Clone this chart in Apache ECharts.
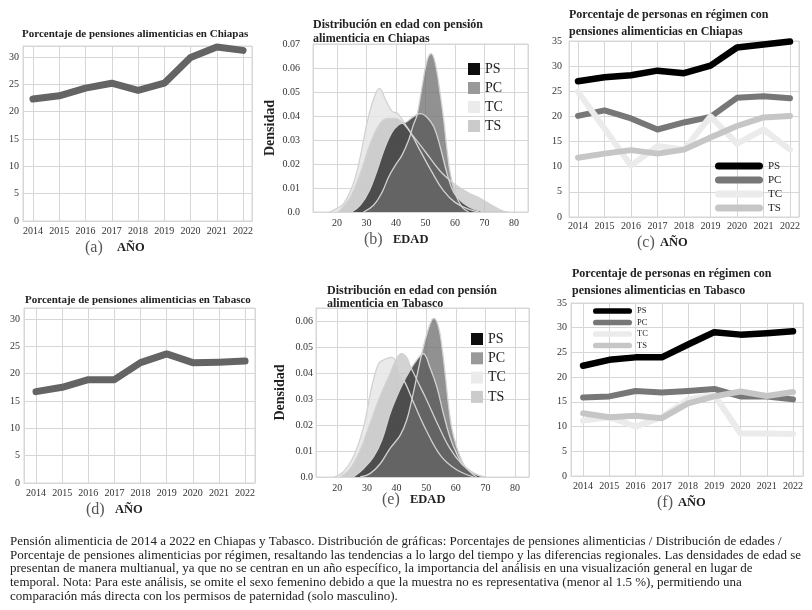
<!DOCTYPE html>
<html>
<head>
<meta charset="utf-8">
<script src="https://cdn.jsdelivr.net/npm/echarts@6/dist/echarts.min.js"></script>
<style>
html,body{margin:0;padding:0;background:#fff;}
#chart{width:812px;height:610px;}
</style>
</head>
<body>
<div id="chart"></div>
<script>
// ---------------- DATA ----------------
const years = [2014, 2015, 2016, 2017, 2018, 2019, 2020, 2021, 2022];
const chiapasPension = [22.3, 22.9, 24.3, 25.2, 23.9, 25.2, 29.9, 31.8, 31.2];
const tabascoPension = [16.7, 17.5, 18.9, 18.9, 22.0, 23.6, 22.0, 22.1, 22.3];

const chiapasPS = [27.0, 27.8, 28.2, 29.1, 28.6, 30.1, 33.7, 34.3, 34.9];
const chiapasPC = [20.1, 21.2, 19.6, 17.4, 18.8, 19.9, 23.7, 24.0, 23.6];
const chiapasTC = [24.9, 17.6, 10.2, 14.1, 13.4, 20.0, 14.6, 17.4, 13.4];
const chiapasTS = [11.8, 12.6, 13.3, 12.6, 13.4, 15.8, 18.1, 19.8, 20.1];

const tabascoPS = [22.3, 23.5, 24.0, 24.0, 26.6, 29.1, 28.6, 28.9, 29.3];
const tabascoPC = [15.9, 16.1, 17.2, 16.9, 17.2, 17.6, 16.1, 16.1, 15.5];
const tabascoTC = [11.2, 11.9, 10.0, 11.9, 15.5, 16.4, 8.6, 8.6, 8.5];
const tabascoTS = [12.7, 11.9, 12.2, 11.7, 14.7, 16.1, 17.1, 16.2, 17.0];

// age density curves [edad, densidad]
const chiapasAgeTC = [[17.5,0],[20,0.0015],[22.3,0.0035],[25.6,0.012],[27.9,0.023],[30,0.036],[32.4,0.047],[34.4,0.0515],[36.4,0.047],[38.6,0.042],[40.6,0.041],[42.6,0.0375],[45,0.033],[48,0.026],[52,0.017],[56,0.009],[60,0.004],[65,0.001],[68,0]];
const chiapasAgeTS = [[20.5,0],[22,0.002],[24.5,0.006],[27.9,0.016],[31.3,0.0285],[34.7,0.037],[37.5,0.039],[39.8,0.039],[42,0.0375],[45,0.033],[50,0.025],[55,0.017],[59.5,0.012],[64,0.0083],[68.6,0.0056],[72.5,0.0028],[76,0.0005],[78,0]];
const chiapasAgePS = [[25,0],[28,0.003],[31,0.009],[33.5,0.017],[36,0.026],[38.5,0.033],[41,0.0365],[43.5,0.0375],[46,0.0398],[48.2,0.041],[50.5,0.0395],[52.8,0.0355],[55,0.027],[57.3,0.016],[59.5,0.0083],[63,0.0035],[66.3,0.0012],[70,0]];
const chiapasAgePC = [[29,0],[32.4,0.0028],[35.3,0.0083],[37.5,0.0146],[39.8,0.0195],[42,0.0236],[44.3,0.030],[45.8,0.036],[47.1,0.0403],[48.8,0.052],[50.5,0.063],[51.9,0.066],[53.3,0.062],[55,0.049],[56.2,0.038],[57.3,0.0257],[58.4,0.016],[60.1,0.0076],[62.4,0.002],[64.6,0]];

const tabascoAgeTC = [[19,0],[22,0.0019],[25.4,0.0077],[28.8,0.019],[31.6,0.0346],[33.9,0.0436],[35.5,0.045],[38.4,0.046],[39.5,0.045],[41,0.04],[43,0.036],[46,0.028],[50,0.018],[55,0.008],[60,0.003],[66,0]];
const tabascoAgeTS = [[21,0],[24.3,0.0032],[27.7,0.0103],[31,0.0205],[34.4,0.031],[37.8,0.0397],[40,0.0455],[41.7,0.0474],[43.4,0.046],[44.5,0.043],[47,0.037],[50,0.030],[54,0.020],[58,0.011],[62,0.005],[66,0.0015],[70,0]];
const tabascoAgePS = [[25.4,0],[28.8,0.0032],[32.2,0.0077],[35,0.0141],[37.8,0.0244],[40,0.0308],[42.3,0.0365],[44.5,0.041],[46.5,0.0445],[49,0.0474],[51.3,0.042],[53.6,0.0346],[55.8,0.0244],[58,0.0154],[60.3,0.009],[62.6,0.0045],[66,0.0015],[69.3,0]];
const tabascoAgePC = [[27.7,0],[31,0.0013],[34.4,0.005],[37.8,0.011],[41.2,0.016],[43.4,0.0218],[45.1,0.0295],[46.8,0.0385],[48.5,0.0474],[50.2,0.055],[51.9,0.0605],[52.7,0.061],[54.1,0.058],[55.2,0.051],[56.4,0.0397],[57.5,0.028],[58.6,0.019],[60.3,0.0115],[62.6,0.005],[64.8,0.002],[67,0]];

const regimes = ['PS', 'PC', 'TC', 'TS'];
const titleA = 'Porcentaje de pensiones alimenticias en Chiapas';
const titleD = 'Porcentaje de pensiones alimenticias en Tabasco';
const titleB = ['Distribución en edad con pensión', 'alimenticia en Chiapas'];
const titleE = ['Distribución en edad con pensión', 'alimenticia en Tabasco'];
const titleC = ['Porcentaje de personas en régimen con', 'pensiones alimenticias en Chiapas'];
const titleF = ['Porcentaje de personas en régimen con', 'pensiones alimenticias en Tabasco'];
const captionLines = [
  'Pensión alimenticia de 2014 a 2022 en Chiapas y Tabasco. Distribución de gráficas: Porcentajes de pensiones alimenticias / Distribución de edades /',
  'Porcentaje de pensiones alimenticias por régimen, resaltando las tendencias a lo largo del tiempo y las diferencias regionales. Las densidades de edad se',
  'presentan de manera multianual, ya que no se centran en un año específico, la importancia del análisis en una visualización general en lugar de',
  'temporal. Nota: Para este análisis, se omite el sexo femenino debido a que la muestra no es representativa (menor al 1.5 %), permitiendo una',
  'comparación más directa con los permisos de paternidad (solo masculino).'
];

// ---------------- STYLE ----------------
const serif = 'Liberation Serif';
const gridColor = '#d7d7d7';
const lineColors = { PS: '#000000', PC: '#777777', TC: '#ebebeb', TS: '#c6c6c6' };
const legendSquare = { PS: '#0d0d0d', PC: '#999999', TC: '#ebebeb', TS: '#cbcbcb' };
const areaColors = { PS: ['#222222', 0.75], PC: ['#6c6c6c', 0.75], TC: ['#e6e6e6', 0.85], TS: ['#c0c0c0', 0.7] };
const pill = 'path://M3.5,0 L44.5,0 A3.5,3.5 0 0 1 44.5,7 L3.5,7 A3.5,3.5 0 0 1 3.5,0 Z';

function isInt(v) { return Math.abs(v - Math.round(v)) < 1e-6; }

function grid(l, t, w, h) {
  return { left: l, top: t, width: w, height: h, show: true, borderColor: gridColor, borderWidth: 1, containLabel: false };
}
function yearAxis(gi, mn, mx, margin) {
  return {
    type: 'value', gridIndex: gi, min: mn, max: mx, splitNumber: 9, minInterval: 1, maxInterval: 1,
    axisLine: { show: true, lineStyle: { color: gridColor } }, axisTick: { show: false },
    axisLabel: { fontFamily: serif, fontSize: 10, color: '#333', margin: margin,
      formatter: v => isInt(v) ? String(Math.round(v)) : '' },
    splitLine: { show: true, lineStyle: { color: gridColor, width: 1 } }
  };
}
function pctAxis(gi, mx, margin) {
  return {
    type: 'value', gridIndex: gi, min: 0, max: mx, interval: 5,
    axisLine: { show: true, lineStyle: { color: gridColor } }, axisTick: { show: false },
    axisLabel: { fontFamily: serif, fontSize: 10, color: '#333', margin: margin,
      formatter: v => (isInt(v / 5) ? String(Math.round(v)) : '') },
    splitLine: { show: true, lineStyle: { color: gridColor, width: 1 } }
  };
}
function ageAxis(gi, mn, mx) {
  return {
    type: 'value', gridIndex: gi, min: mn, max: mx, splitNumber: 7, minInterval: 10, maxInterval: 10,
    axisLine: { show: true, lineStyle: { color: gridColor } }, axisTick: { show: false },
    axisLabel: { fontFamily: serif, fontSize: 10, color: '#333', margin: 6,
      formatter: v => (isInt(v / 10) ? String(Math.round(v)) : '') },
    splitLine: { show: true, lineStyle: { color: gridColor, width: 1 } }
  };
}
function densAxis(gi, mx, margin, nameGap) {
  return {
    type: 'value', gridIndex: gi, min: 0, max: mx, interval: 0.01,
    name: 'Densidad', nameLocation: 'middle', nameGap: nameGap, nameRotate: 90,
    nameTextStyle: { fontFamily: serif, fontSize: 14, fontWeight: 'bold', color: '#222' },
    axisLine: { show: true, lineStyle: { color: gridColor } }, axisTick: { show: false },
    axisLabel: { fontFamily: serif, fontSize: 10, color: '#333', margin: margin,
      formatter: v => v === 0 ? '0.0' : (isInt(v * 100) ? v.toFixed(2) : '') },
    splitLine: { show: true, lineStyle: { color: gridColor, width: 1 } }
  };
}
function pair(vals) { return years.map((y, i) => [y, vals[i]]); }
function totalLine(gi, vals) {
  return { type: 'line', name: 'total' + gi, xAxisIndex: gi, yAxisIndex: gi, data: pair(vals),
    symbol: 'none', clip: false, color: '#646464',
    lineStyle: { color: '#646464', width: 7, cap: 'round', join: 'round' } };
}
function regimeLine(gi, name, vals, width) {
  return { type: 'line', name: name, xAxisIndex: gi, yAxisIndex: gi, data: pair(vals),
    symbol: 'none', clip: false, color: lineColors[name],
    lineStyle: { color: lineColors[name], width: width, cap: 'round', join: 'round' } };
}
function densArea(gi, name, pts) {
  return { type: 'line', name: name, xAxisIndex: gi, yAxisIndex: gi, data: pts,
    smooth: 0.4,
    symbol: 'none', color: legendSquare[name],
    lineStyle: { color: '#d2d2d2', width: 1.3 },
    areaStyle: { color: areaColors[name][0], opacity: areaColors[name][1] } };
}
function legendData(colors) {
  return regimes.map(n => ({ name: n, itemStyle: { color: colors[n], borderWidth: 0 } }));
}
function txt(x, y, text, font, color, extra) {
  return Object.assign({ type: 'text', x: x, y: y, silent: true,
    style: Object.assign({ text: text, font: font, fill: color || '#222', align: 'left', verticalAlign: 'middle',
      textAlign: 'left', textVerticalAlign: 'middle' }, extra || {}) });
}

const titleFont = 'bold 11px "Liberation Serif"';
const title2Font = 'bold 12px "Liberation Serif"';
const subFont = '16px "Liberation Serif"';
const subBold = 'bold 12.5px "Liberation Serif"';

const option = {
  animation: false,
  backgroundColor: '#ffffff',
  grid: [
    grid(23, 46, 229, 175),   // a
    grid(313, 44, 215, 168),  // b
    grid(569, 41, 230, 176),  // c
    grid(24, 308, 231, 175),  // d
    grid(316, 308, 213, 169), // e
    grid(571, 303, 232, 173)  // f
  ],
  xAxis: [
    yearAxis(0, 2013.62, 2022.34, 5),
    ageAxis(1, 11.9, 84.7),
    yearAxis(2, 2013.66, 2022.34, 4),
    yearAxis(3, 2013.54, 2022.38, 5),
    ageAxis(4, 12.8, 84.7),
    yearAxis(5, 2013.54, 2022.38, 5)
  ],
  yAxis: [
    pctAxis(0, 32, 4),
    densAxis(1, 0.07, 13, 36),
    pctAxis(2, 35, 7),
    pctAxis(3, 32, 4),
    densAxis(4, 0.065, 3, 29),
    pctAxis(5, 35, 4)
  ],
  legend: [
    { left: 468, top: 62, padding: 0, orient: 'vertical', icon: 'rect', itemWidth: 12, itemHeight: 12, itemGap: 5,
      selectedMode: false, textStyle: { fontFamily: serif, fontSize: 14, lineHeight: 14, color: '#222' },
      data: legendData(legendSquare) },
    { left: 471, top: 332, padding: 0, orient: 'vertical', icon: 'rect', itemWidth: 12, itemHeight: 12, itemGap: 5.3,
      selectedMode: false, textStyle: { fontFamily: serif, fontSize: 14, lineHeight: 14, color: '#222' },
      data: legendData(legendSquare) },
    { left: 715, top: 160, padding: 0, orient: 'vertical', icon: pill, itemWidth: 48, itemHeight: 7, itemGap: 2,
      selectedMode: false, textStyle: { fontFamily: serif, fontSize: 11, lineHeight: 12, color: '#222' },
      data: legendData(lineColors) },
    { left: 593, top: 306, padding: 0, orient: 'vertical', icon: pill, itemWidth: 39, itemHeight: 6, itemGap: 1.5,
      selectedMode: false, textStyle: { fontFamily: serif, fontSize: 8.5, lineHeight: 10, color: '#222' },
      data: legendData(lineColors) }
  ],
  series: [
    totalLine(0, chiapasPension),
    totalLine(3, tabascoPension),
    densArea(1, 'TC', chiapasAgeTC),
    densArea(1, 'TS', chiapasAgeTS),
    densArea(1, 'PS', chiapasAgePS),
    densArea(1, 'PC', chiapasAgePC),
    densArea(4, 'TC', tabascoAgeTC),
    densArea(4, 'TS', tabascoAgeTS),
    densArea(4, 'PS', tabascoAgePS),
    densArea(4, 'PC', tabascoAgePC),
    regimeLine(2, 'PS', chiapasPS, 6.5),
    regimeLine(2, 'PC', chiapasPC, 6),
    regimeLine(2, 'TC', chiapasTC, 6),
    regimeLine(2, 'TS', chiapasTS, 6),
    regimeLine(5, 'PS', tabascoPS, 6.5),
    regimeLine(5, 'PC', tabascoPC, 6),
    regimeLine(5, 'TC', tabascoTC, 6),
    regimeLine(5, 'TS', tabascoTS, 6)
  ],
  graphic: [
    txt(22, 34, titleA, titleFont),
    txt(25, 300, titleD, titleFont),
    txt(313, 25, titleB[0], title2Font),
    txt(313, 38.5, titleB[1], title2Font),
    txt(327, 290.5, titleE[0], title2Font),
    txt(327, 304, titleE[1], title2Font),
    txt(569, 15, titleC[0], title2Font),
    txt(569, 31.5, titleC[1], title2Font),
    txt(572, 274, titleF[0], title2Font),
    txt(572, 290.5, titleF[1], title2Font),
    txt(85, 248, '(a)', subFont, '#555'), txt(117, 248, 'AÑO', subBold),
    txt(364, 240, '(b)', subFont, '#555'), txt(393, 240, 'EDAD', subBold),
    txt(637, 243, '(c)', subFont, '#555'), txt(660, 243, 'AÑO', subBold),
    txt(86, 510, '(d)', subFont, '#555'), txt(115, 510, 'AÑO', subBold),
    txt(382, 500, '(e)', subFont, '#555'), txt(410, 500, 'EDAD', subBold),
    txt(657, 503, '(f)', subFont, '#555'), txt(678, 503, 'AÑO', subBold),
    txt(10, 535, captionLines.join('\n'), '13px "Liberation Serif"', '#222',
      { verticalAlign: 'top', textVerticalAlign: 'top', lineHeight: 13.6 })
  ]
};

const chart = echarts.init(document.getElementById('chart'), null, { renderer: 'canvas' });
chart.setOption(option);
</script>
</body>
</html>
